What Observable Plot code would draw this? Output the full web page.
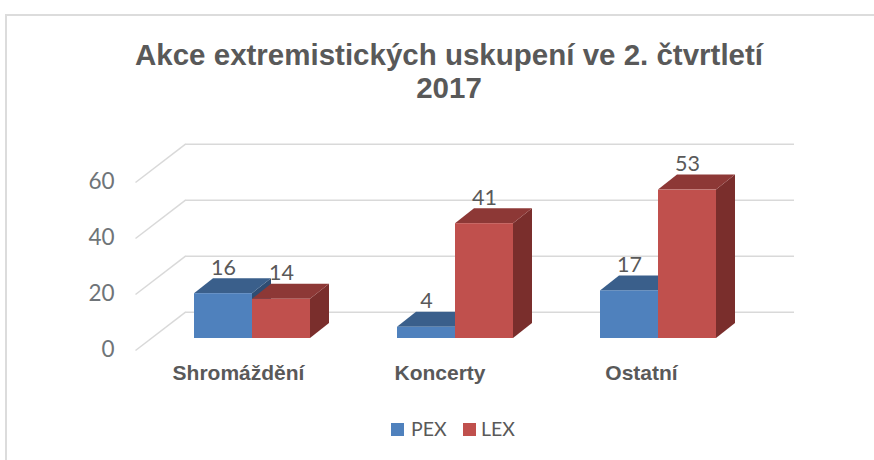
<!DOCTYPE html>
<html lang="cs">
<head>
<meta charset="utf-8">
<script src="https://cdn.jsdelivr.net/npm/d3@7"></script>
<script src="https://cdn.jsdelivr.net/npm/@observablehq/plot@0.6"></script>
<style>
html,body{margin:0;padding:0;background:#fff;}
#page{position:relative;width:874px;height:460px;overflow:hidden;background:#fff;}
#frame{position:absolute;left:5px;top:14px;width:900px;height:500px;border:2px solid #dcdcdc;box-sizing:border-box;}
#title{position:absolute;left:6px;top:38px;width:886px;text-align:center;font:bold 29.5px/33px "Liberation Sans",Arial,sans-serif;color:#595959;}
#chart{position:absolute;left:0;top:110px;}
#legend{position:absolute;top:416px;left:0;height:26px;font:19.5px/26px Lato,sans-serif;color:#595959;}
#legend span{position:absolute;white-space:nowrap;}
#legend i{position:absolute;top:7px;width:13px;height:13px;}
</style>
</head>
<body>
<div id="page">
  <div id="frame"></div>
  <div id="title">Akce extremistických uskupení ve 2. čtvrtletí<br>2017</div>
  <div id="chart"></div>
  <div id="legend"></div>
</div>
<script>
const categories = ["Shromáždění", "Koncerty", "Ostatní"];
const seriesNames = ["PEX", "LEX"];
const pexValues = [16, 4, 17];
const lexValues = [14, 41, 53];
const yTicks = [0, 20, 40, 60];

const frontColors = {PEX: "#4f81bd", LEX: "#c0504d"};
const topColors   = {PEX: "#3a5f8b", LEX: "#8d3836"};
const sideColors  = {PEX: "#2f4d73", LEX: "#7a2e2c"};

const barW = 58 / 203, depthX = 19 / 203, depthY = 15 / 2.8;
const wallX = 50 / 203, wallY = 26.3 / 2.8, floorY = 12 / 2.8;
const gridL = -0.33, gridR = 2.67;
const labelStep = 201.5 / 203;

const rows = seriesNames.map((s, si) => {
  const vals = s === "PEX" ? pexValues : lexValues;
  return vals.map((v, c) => ({s, c, v, x1: c + (si - 1) * barW, x2: c + si * barW}));
});

const faces = r => ({
  top: [
    {id: r.c, x1: r.x1, x2: r.x2, y: r.v},
    {id: r.c, x1: r.x1 + depthX, x2: r.x2 + depthX, y: r.v + depthY}
  ],
  side: [
    {id: r.c, x: r.x2, y1: 0, y2: r.v},
    {id: r.c, x: r.x2 + depthX, y1: depthY, y2: r.v + depthY}
  ]
});

const barMarks = rows.flatMap(list => {
  const s = list[0].s;
  return [
    Plot.area(list.flatMap(r => faces(r).side), {x1: "x", x2: "x", y1: "y1", y2: "y2", z: "id", fill: sideColors[s]}),
    Plot.area(list.flatMap(r => faces(r).top), {x1: "x1", x2: "x2", y1: "y", y2: "y", z: "id", fill: topColors[s]}),
    Plot.rectY(list, {x1: "x1", x2: "x2", y1: 0, y2: "v", fill: frontColors[s], inset: 0})
  ];
});

const chart = Plot.plot({
  width: 874, height: 290,
  marginLeft: 120, marginRight: 0, marginTop: 0, marginBottom: 0,
  style: {background: "transparent", overflow: "visible"},
  x: {type: "linear", domain: [0, 2], range: [252, 658], axis: null},
  y: {type: "linear", domain: [0, 60], range: [228, 60], axis: null},
  marks: [
    Plot.ruleY(yTicks, {y: d => d + wallY, x1: gridL, x2: gridR, stroke: "#d9d9d9", strokeWidth: 1.5, strokeOpacity: 1}),
    Plot.link(yTicks, {x1: gridL - wallX, y1: d => d - floorY, x2: gridL, y2: d => d + wallY, stroke: "#d9d9d9", strokeWidth: 1.5, strokeOpacity: 1}),
    ...barMarks,
    Plot.axisY(yTicks, {anchor: "left", tickSize: 0, tickPadding: 6, dy: 11.5, label: null, fontSize: 22.5, fontFamily: "Lato, sans-serif", fill: "#6f7478"}),
    Plot.text(categories, {x: (d, i) => i * labelStep, y: 0, dx: -14, dy: 35, text: d => d, fontSize: 21, fontWeight: "bold", fontFamily: "Liberation Sans, Arial, sans-serif", fill: "#595959"}),
    ...rows.map(list => Plot.text(list, {x: d => (d.x1 + d.x2) / 2, y: "v", text: "v", dy: -26, fontSize: 21.5, fontFamily: "Lato, sans-serif", fill: "#595959"}))
  ]
});
document.getElementById("chart").appendChild(chart);

const legend = document.getElementById("legend");
const legendPos = {PEX: [391, 411], LEX: [463, 481]};
seriesNames.forEach(s => {
  const sw = document.createElement("i");
  sw.style.left = legendPos[s][0] + "px";
  sw.style.background = frontColors[s];
  legend.appendChild(sw);
  const t = document.createElement("span");
  t.style.left = legendPos[s][1] + "px";
  t.textContent = s;
  legend.appendChild(t);
});
</script>
</body>
</html>
